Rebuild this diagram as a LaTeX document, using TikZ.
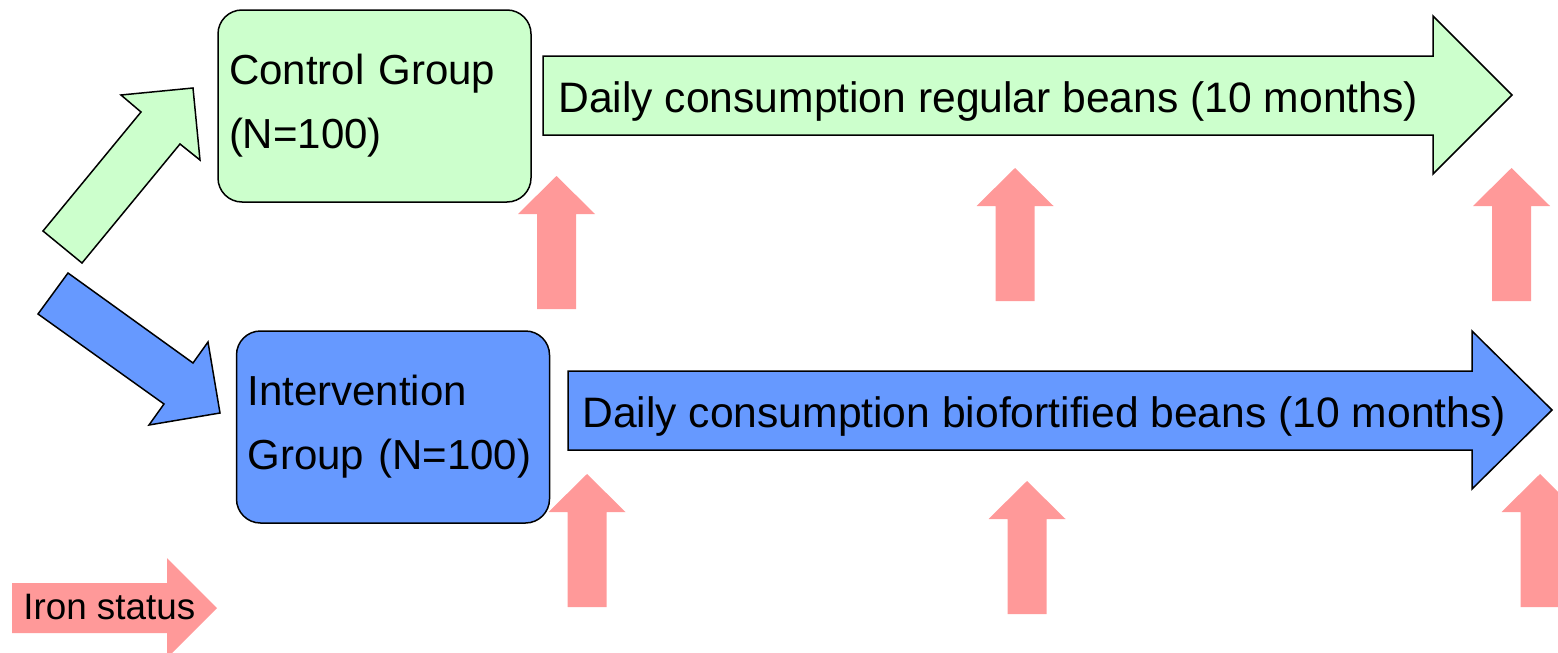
\documentclass[tikz,border=0pt]{standalone}
\usepackage{fontspec}
\setmainfont{Liberation Sans}
\usepackage{xcolor}
\usepackage{tikz}
\usetikzlibrary{positioning}

\definecolor{ctrlgreen}{HTML}{CCFFCC}
\definecolor{intvblue}{HTML}{6699FF}
\definecolor{ironpink}{HTML}{FF9999}

\begin{document}
\begin{tikzpicture}[x=0.5pt,y=-0.5pt,
  grp/.style={rectangle,rounded corners=12pt,draw,line width=0.75pt,
    minimum width=156.5pt,minimum height=96pt,text width=145.5pt,
    inner xsep=5.5pt,align=left,font=\fontsize{21}{32}\selectfont},
  fat/.style={draw,line width=0.75pt,line join=miter},
  iron/.style={fill=ironpink},
  lbl/.style={inner sep=0pt,font=\fontsize{21.3}{26}\selectfont}]
  \useasboundingbox (0,0) rectangle (1558,653);
  % the two groups
  \node[grp,fill=ctrlgreen] (ctrl) at (374.5,106) {Control Group\\(N=100)};
  \node[grp,fill=intvblue] (intv) at (393,427) {Intervention\\Group (N=100)};
  % randomisation arrows into the groups
  \draw[fat,fill=ctrlgreen] (82,263) -- (180,144) -- (200,160) -- (193,88)
    -- (121,95) -- (141,112) -- (43,231) -- cycle;
  \draw[fat,fill=intvblue] (68,273) -- (193,363) -- (208,342) -- (220,413)
    -- (149,425) -- (164,404) -- (38,314) -- cycle;
  % consumption arrows, ten months long
  \draw[fat,fill=ctrlgreen] (543,56) -- (1433,56) -- (1433,16) -- (1512,95)
    -- (1433,174) -- (1433,135) -- (543,135) -- cycle;
  \node[lbl,anchor=base west] (regtxt) at (558,112)
    {Daily consumption regular beans (10 months)};
  \draw[fat,fill=intvblue] (568,371) -- (1472,371) -- (1472,331) -- (1552,410)
    -- (1472,489) -- (1472,450) -- (568,450) -- cycle;
  \node[lbl,anchor=base west] (biotxt) at (582,427)
    {Daily consumption biofortified beans (10 months)};
  % iron status measured at start, middle and end
  \foreach \tx/\ty in {556.5/176,1015/168,1511.5/168,587/474,1027/481,1540/474}
    \fill[iron] (\tx,\ty) -- ++(38.5,38) -- ++(-19,0) -- ++(0,95)
      -- ++(-39,0) -- ++(0,-95) -- ++(-19,0) -- cycle;
  % legend
  \fill[iron] (12,583) -- (167,583) -- (167,558) -- (217,608) -- (167,658)
    -- (167,633) -- (12,633) -- cycle;
  \node[inner sep=0pt,anchor=west,font=\fontsize{18.4}{22}\selectfont] (ironlbl)
    at (23,607) {Iron status};
\end{tikzpicture}
\end{document}
